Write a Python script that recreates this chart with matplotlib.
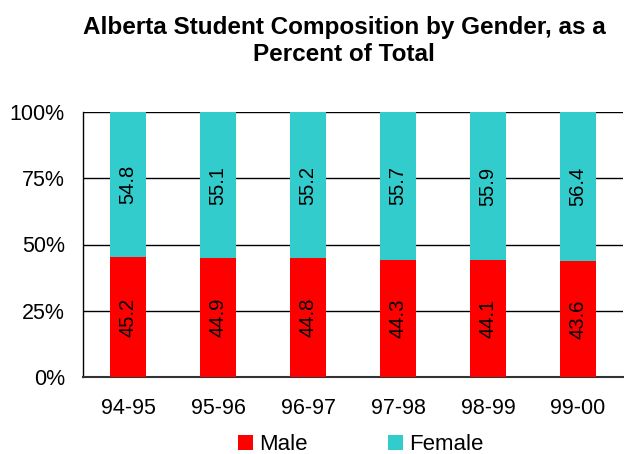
import matplotlib.pyplot as plt
from matplotlib.ticker import FuncFormatter

plt.rcParams["font.family"] = ["Liberation Sans", "DejaVu Sans"]

years = ["94-95", "95-96", "96-97", "97-98", "98-99", "99-00"]
male = [45.2, 44.9, 44.8, 44.3, 44.1, 43.6]
female = [54.8, 55.1, 55.2, 55.7, 55.9, 56.4]

male_color = "#FF0000"
female_color = "#33CCCC"

fig = plt.figure(figsize=(6.24, 4.54), dpi=100)
ax = fig.add_axes([83 / 624, 1 - 377 / 454, 540 / 624, 265 / 454])

x = list(range(len(years)))
width = 0.41
ax.bar(x, male, width, color=male_color, label="Male", zorder=3)
ax.bar(x, female, width, bottom=male, color=female_color, label="Female", zorder=3)

for i in x:
    ax.text(i, male[i] / 2, f"{male[i]:.1f}", rotation=90, ha="center",
            va="center", fontsize=14.5, zorder=4)
    ax.text(i, male[i] + female[i] / 2, f"{female[i]:.1f}", rotation=90,
            ha="center", va="center", fontsize=14.5, zorder=4)

ax.set_xlim(-0.5, len(years) - 0.5)
ax.set_ylim(0, 100)
ax.set_yticks([0, 25, 50, 75, 100])
ax.yaxis.set_major_formatter(FuncFormatter(lambda v, p: f"{v:.0f}%"))
ax.set_xticks(x)
ax.set_xticklabels(years)
ax.tick_params(axis="both", length=0, labelsize=15.5)
ax.tick_params(axis="y", pad=13)
ax.tick_params(axis="x", pad=15)
ax.grid(axis="y", color="black", linewidth=1, zorder=1)

for side in ["top", "right"]:
    ax.spines[side].set_visible(False)
ax.spines["left"].set_linewidth(1)
ax.spines["bottom"].set_linewidth(1.5)
ax.spines["bottom"].set_color("#333333")

fig.text(344 / 624, 1 - 41 / 454, "Alberta Student Composition by Gender, as a\nPercent of Total",
         ha="center", va="center", fontsize=17.5, fontweight="bold", linespacing=1.25)

fig.legend(loc="center", bbox_to_anchor=(361 / 624, 1 - 445 / 454), ncol=2,
           frameon=False, fontsize=16, handlelength=0.65, handleheight=0.65,
           columnspacing=3.6, handletextpad=0.3)

fig.savefig("out.png", dpi=100)
